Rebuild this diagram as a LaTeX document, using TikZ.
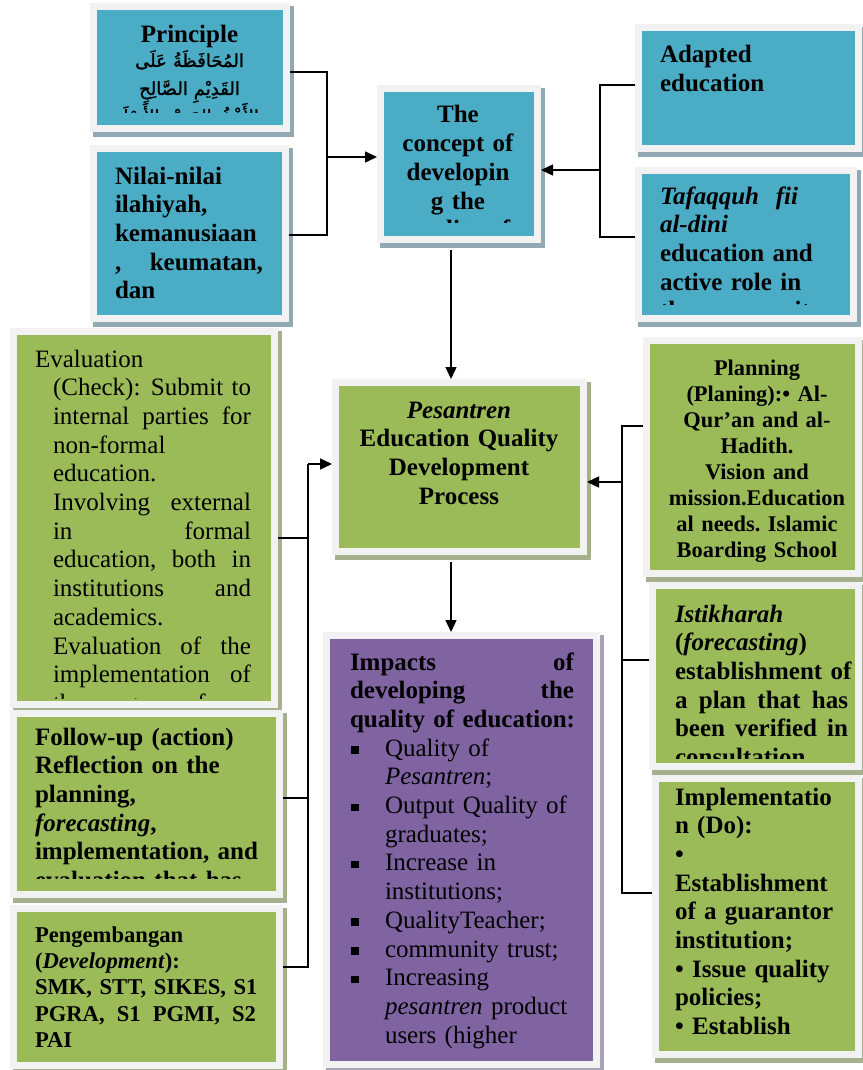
\documentclass[tikz,border=0pt]{standalone}
\usepackage{fontspec}
\setmainfont{Liberation Serif}
\newfontfamily\arabicfont[Script=Arabic,FakeBold=1.5]{DejaVu Sans}
\TeXXeTstate=1
\frenchspacing
\usetikzlibrary{arrows.meta,fit}
\definecolor{framegray}{HTML}{F2F2F2}
\definecolor{cblue}{HTML}{4BACC6}
\definecolor{sblue}{HTML}{90A9B4}
\definecolor{cgreen}{HTML}{9BBB59}
\definecolor{sgreen}{HTML}{A6B08D}
\definecolor{cpurple}{HTML}{8064A2}
\definecolor{spurple}{HTML}{A8A2B2}
\newcommand\fA{\fontsize{25}{28.7}\selectfont}
\newcommand\fB{\fontsize{22.4}{26}\selectfont}
\newcommand\fC{\fontsize{22.6}{26.4}\selectfont}
\newcommand\fAr{\fontsize{18}{28}\selectfont\mdseries\arabicfont}
\newcommand\jst[2]{\makebox[#1][l]{#2}}
\newcommand\bul{\makebox[35pt][l]{\hspace{1pt}\raisebox{2.5pt}{\rule{7.5pt}{7.5pt}}}}
\newcommand\ind{\hspace*{35pt}}
\newcommand\mypanel[7]{%
  \fill[#7] (#2+3,#3+3) rectangle (#4+4,#5+5);
  \node[fit={(#2,#3) (#4,#5)}, inner sep=0pt, outer sep=0pt, fill=framegray] (#1) {};
  \fill[#6] (#2+7,#3+7) rectangle (#4-7,#5-7);
}
\begin{document}
\begin{tikzpicture}[x=1pt,y=-1pt,
  conn/.style={line width=1.5pt},
  arr/.style={line width=1.5pt,-{Triangle[length=12pt,width=11pt]}},
  lbl/.style={inner sep=0pt,outer sep=0pt,anchor=base west,align=left},
  clbl/.style={inner sep=0pt,outer sep=0pt,anchor=base,align=center}]
\useasboundingbox (0,0) rectangle (862,1070);

% panels
\mypanel{b1}{90}{3}{290}{132}{cblue}{sblue}
\mypanel{b2}{90}{145}{289}{322}{cblue}{sblue}
\mypanel{bc}{377}{85}{541}{243}{cblue}{sblue}
\mypanel{ba}{635}{24}{862}{152}{cblue}{sblue}
\mypanel{bt}{635}{167}{857}{322}{cblue}{sblue}
\mypanel{bp}{332}{379}{587}{555}{cgreen}{sgreen}
\mypanel{bpu}{323}{632}{600}{1068}{cpurple}{spurple}
\mypanel{be}{10}{328}{278}{708}{cgreen}{sgreen}
\mypanel{bf}{10}{710}{283}{898}{cgreen}{sgreen}
\mypanel{bd}{10}{905}{283}{1069}{cgreen}{sgreen}
\mypanel{bpl}{643}{337}{862}{577}{cgreen}{sgreen}
\mypanel{bi}{649}{582}{862}{770}{cgreen}{sgreen}
\mypanel{bim}{652}{775}{862}{1058}{cgreen}{sgreen}

% texts
\begin{scope}
\clip (97,10) rectangle (283,113);
\node[clbl,text width=180pt,font=\fA\bfseries] (t1) at (189.5,43) {Principle};
\node[clbl,text width=180pt,font=\fAr] (t1a) at (189.5,67) {\beginR المُحَافَظَةُ عَلَى\endR\\ \beginR القَدِيْمِ الصَّالِحِ\endR\\ \beginR وَالأَخْذُ بِالجَدِيْدِ الأَصْلَحِ\endR};
\end{scope}

\begin{scope}
\clip (97,152) rectangle (282,306);
\node[lbl,text width=160pt,font=\fA\bfseries] (t2) at (115,184) {Nilai-nilai\\ ilahiyah,\\ kemanusiaan\\ \jst{148pt}{,\hfill keumatan,}\\ dan};
\end{scope}

\begin{scope}
\clip (384,92) rectangle (534,222);
\node[clbl,text width=150pt,font=\fA\bfseries] (t3) at (458,123) {The\\ concept of\\ developin\\ g the\\ quality of};
\end{scope}

\node[lbl,text width=190pt,font=\fA\bfseries] (t4) at (660,63) {Adapted\\ education};

\begin{scope}
\clip (642,174) rectangle (850,304);
\node[lbl,text width=180pt,font=\fA\bfseries] (t5) at (660,204) {\textit{Tafaqquh\ \ fii}\\ \textit{al-dini}\\ education and\\ active role in\\ the community};
\end{scope}

\node[clbl,text width=230pt,font=\fA\bfseries] (t6) at (459,418) {\textit{Pesantren}\\ Education Quality\\ Development\\ Process};

\begin{scope}
\clip (17,335) rectangle (271,698);
\node[lbl,text width=210pt,font=\fA] (t7) at (53,367) {\hspace*{-18pt}Evaluation\\ \jst{198pt}{(Check):\hfill Submit to}\\ \jst{198pt}{internal\hfill parties\hfill for}\\ non-formal\\ education.\\ \jst{198pt}{Involving\hfill external}\\ \jst{198pt}{in\hfill formal}\\ \jst{198pt}{education,\hfill both\hfill in}\\ \jst{198pt}{institutions\hfill and}\\ academics.\\ \jst{198pt}{Evaluation\hfill of\hfill the}\\ \jst{198pt}{implementation\hfill of}\\ the program of};
\end{scope}

\begin{scope}
\clip (17,717) rectangle (276,878);
\node[lbl,text width=245pt,font=\fA\bfseries] (t8) at (35,745) {Follow-up (action)\\ Reflection on the\\ planning,\\ \textit{forecasting},\\ implementation, and\\ evaluation that has};
\end{scope}

\node[lbl,text width=235pt,font=\fC\bfseries] (t9) at (35,942) {Pengembangan\\ (\textit{Development}):\\ SMK, STT, SIKES, S1\\ \jst{221pt}{PGRA,\hfill S1\hfill PGMI,\hfill S2}\\ PAI};

\node[clbl,text width=215pt,font=\fB\bfseries] (t10) at (757,375) {Planning\\ (Planing):• Al-\\ Qur'an and al-\\ Hadith.\\ Vision and\\ mission.Education\\ al needs. Islamic\\ Boarding School};

\begin{scope}
\clip (656,589) rectangle (862,758);
\node[lbl,text width=190pt,font=\fA\bfseries] (t11) at (675,622) {\textit{Istikharah}\\ (\textit{forecasting})\\ establishment of\\ \jst{173pt}{a\hfill plan\hfill that\hfill has}\\ \jst{173pt}{been\hfill verified\hfill in}\\ consultation};
\end{scope}

\node[lbl,text width=185pt,font=\fA\bfseries] (t12) at (675,805) {Implementatio\\ n (Do):\\ •\\ Establishment\\ of a guarantor\\ institution;\\ • Issue quality\\ policies;\\ • Establish};

\node[lbl,text width=235pt,font=\fA] (t13) at (350,670) {\bfseries\jst{224pt}{Impacts\hfill of}\\ \jst{224pt}{developing\hfill the}\\ quality of education:\\ \mdseries\bul Quality of\\ \ind\textit{Pesantren};\\ \bul Output Quality of\\ \ind graduates;\\ \bul Increase in\\ \ind institutions;\\ \bul QualityTeacher;\\ \bul community trust;\\ \bul Increasing\\ \ind\textit{pesantren} product\\ \ind users (higher};

% connectors
\coordinate (lt1) at (327,72);
\coordinate (lt2) at (327,235);
\coordinate (ltm) at (327,157);
\draw[conn] (b1.east |- lt1) -- (lt1) -- (lt2) -- (b2.east |- lt2);
\draw[arr] (ltm) -- (bc.west |- ltm);

\coordinate (rt1) at (600,85);
\coordinate (rt2) at (600,237);
\coordinate (rtm) at (600,170);
\draw[conn] (ba.west |- rt1) -- (rt1) -- (rt2) -- (bt.west |- rt2);
\draw[arr] (rtm) -- (bc.east |- rtm);

\coordinate (v1) at (451,0);
\draw[arr,shorten <=7pt] (bc.south -| v1) -- (bp.north -| v1);
\draw[arr,shorten <=7pt] (bp.south -| v1) -- (bpu.north -| v1);

\coordinate (lb0) at (308,464);
\coordinate (lb1) at (308,538);
\coordinate (lb2) at (308,798);
\coordinate (lb3) at (308,967);
\draw[conn] (be.east |- lb1) -- (lb1);
\draw[conn] (bf.east |- lb2) -- (lb2);
\draw[conn] (bd.east |- lb3) -- (lb3) -- (lb0);
\draw[arr] (lb0) -- (bp.west |- lb0);

\coordinate (rb0) at (622,482);
\coordinate (rb1) at (622,426);
\coordinate (rb2) at (622,660);
\coordinate (rb3) at (622,893);
\draw[conn] (bpl.west |- rb1) -- (rb1) -- (rb3) -- (bim.west |- rb3);
\draw[conn] (rb2) -- (bi.west |- rb2);
\draw[arr] (rb0) -- (bp.east |- rb0);
\end{tikzpicture}
\end{document}
